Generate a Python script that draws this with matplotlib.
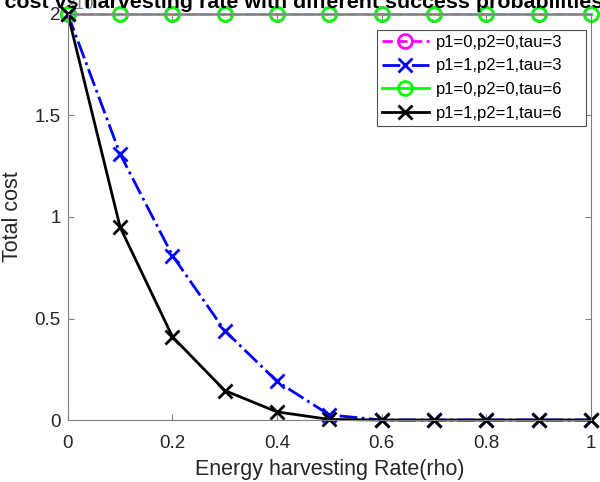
import matplotlib.pyplot as plt

plt.rcParams['font.family'] = ['Liberation Sans', 'DejaVu Sans']

# data
rho = [0, 0.1, 0.2, 0.3, 0.4, 0.5, 0.6, 0.7, 0.8, 0.9, 1.0]
cost_p0_tau3 = [2, 2, 2, 2, 2, 2, 2, 2, 2, 2, 2]
cost_p1_tau3 = [2, 1.31, 0.81, 0.44, 0.19, 0.025, 0, 0, 0, 0, 0]
cost_p0_tau6 = [2, 2, 2, 2, 2, 2, 2, 2, 2, 2, 2]
cost_p1_tau6 = [2, 0.95, 0.41, 0.145, 0.04, 0.003, 0, 0, 0, 0, 0]
labels = ["p1=0,p2=0,tau=3", "p1=1,p2=1,tau=3", "p1=0,p2=0,tau=6", "p1=1,p2=1,tau=6"]
x_ticks = [0, 0.2, 0.4, 0.6, 0.8, 1]
x_tick_labels = ["0", "0.2", "0.4", "0.6", "0.8", "1"]
y_ticks = [0, 0.5, 1, 1.5, 2]
y_tick_labels = ["0", "0.5", "1", "1.5", "2"]
title = "Total cost vs harvesting rate with different success probabilities"

fig = plt.figure(figsize=(6, 4.82), dpi=100, facecolor="white")
ax = fig.add_axes([0.113, 0.1286, 0.872, 0.8424])

# Line styles:
style = dict(linewidth=2, markersize=10, markeredgewidth=2, clip_on=False)
ax.plot(rho, cost_p0_tau3, color="#ff00ff", linestyle="--", marker="o",
        markerfacecolor="none", label=labels[0], **style)
ax.plot(rho, cost_p1_tau3, color="#0000ff", linestyle="-.", marker="x",
        label=labels[1], **style)
ax.plot(rho, cost_p0_tau6, color="#00ff00", linestyle="-", marker="o",
        markerfacecolor="none", label=labels[2], **style)
ax.plot(rho, cost_p1_tau6, color="black", linestyle="-", marker="x",
        label=labels[3], **style)

ax.set_xlim(0, 1)
ax.set_ylim(0, 2)
ax.set_xticks(x_ticks)
ax.set_xticklabels(x_tick_labels)
ax.set_yticks(y_ticks)
ax.set_yticklabels(y_tick_labels)

# MATLAB-like box
for s in ax.spines.values():
    s.set_color("#808080")
    s.set_linewidth(0.8)
ax.tick_params(direction="in", top=True, right=True, colors="#808080",
               labelcolor="#262626", labelsize=13.5, length=4)
ax.tick_params(axis="x", pad=11)
ax.tick_params(axis="y", pad=5)

ax.set_xlabel("Energy harvesting Rate(rho)", fontsize=15.5, color="#262626", labelpad=5)
ax.set_ylabel("Total cost", fontsize=15.5, color="#262626", labelpad=8)

# exponent-like label hidden under the title
fig.text(66 / 600, 1 - 9 / 482, "×10", fontsize=12, color="#808080", zorder=1)
fig.text(603 / 600, 1 - 8 / 482, title, ha="right", va="baseline",
         fontsize=15.4, fontweight="bold", zorder=5)

# legend box stretched like MATLAB's (extra room on the right)
leg = ax.legend(loc="upper right", fontsize=12, frameon=True, fancybox=False,
                edgecolor="#262626", handlelength=2.8, borderpad=0.3,
                labelspacing=0.52, handletextpad=0.45, borderaxespad=0,
                mode="expand", bbox_to_anchor=(0.591, 0.7266, 0.399, 0.2344))
leg.get_frame().set_linewidth(0.8)

plt.savefig("out.png", dpi=100)
